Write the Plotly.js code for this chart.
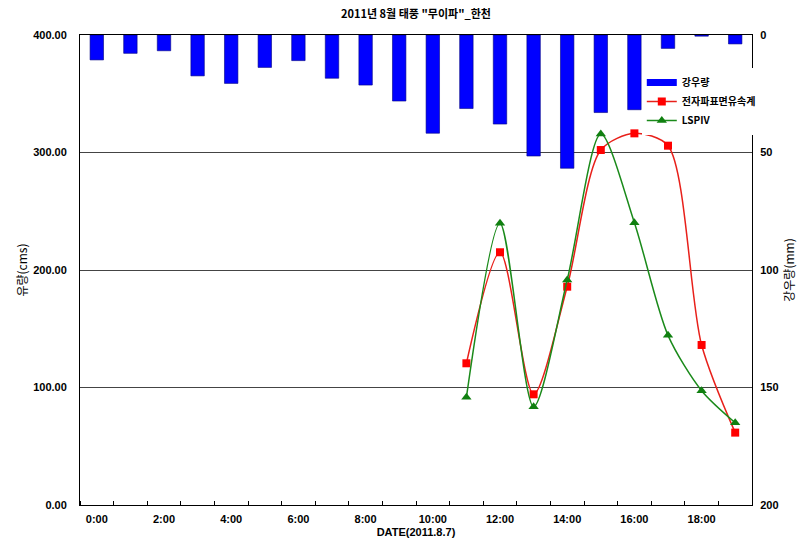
<!DOCTYPE html>
<html>
<head>
<meta charset="utf-8">
<script src="https://cdn.plot.ly/plotly-3.0.1.min.js"></script>
<style>html,body{margin:0;padding:0;background:#fff;}#chart{width:798px;height:547px;}</style>
</head>
<body>
<div id="chart"></div>
<script>
// Hours of the day (category positions) and their labels
var hours = [0,1,2,3,4,5,6,7,8,9,10,11,12,13,14,15,16,17,18,19];
var tickHours = [0,2,4,6,8,10,12,14,16,18];
var tickLabels = ['0:00','2:00','4:00','6:00','8:00','10:00','12:00','14:00','16:00','18:00'];

// Rainfall (mm), 강우량
var rainfall = [10.6, 7.8, 6.7, 17.4, 20.6, 13.8, 10.9, 18.4, 21.3, 28.1, 41.8, 31.3, 37.9, 51.5, 56.7, 33.0, 31.8, 5.7, 0.5, 3.8];

// Discharge (cms)
var flowHours = [11,12,13,14,15,16,17,18,19];
var radarFlow = [120.6, 215.1, 94.2, 185.8, 302.1, 316.3, 305.8, 136.2, 61.6];   // 전자파표면유속계
var lspivFlow = [91.6, 239.7, 83.7, 191.5, 315.7, 240.3, 144.4, 97.3, 70.0];     // LSPIV

var boldFont = {family: 'Liberation Sans Narrow, Liberation Sans, Arial, sans-serif', size: 11, color: '#000', weight: 'bold'};
var krFont = {family: 'Noto Sans CJK KR, sans-serif', size: 11, color: '#000', weight: 'bold'};

var traces = [
  // legend-only entry drawn as a wide blue block, like the reference legend key
  {
    type: 'scatter', mode: 'lines', name: '강우량', x: [null], y: [null], yaxis: 'y2',
    line: {color: '#0000FF', width: 7}, legendrank: 1
  },
  {
    type: 'bar', name: '강우량', x: hours, y: rainfall, yaxis: 'y2',
    width: 0.4, showlegend: false,
    marker: {color: '#0000FF', line: {color: '#000080', width: 0.6}}
  },
  {
    type: 'scatter', mode: 'lines+markers', name: '전자파표면유속계',
    x: flowHours, y: radarFlow, yaxis: 'y', legendrank: 2,
    line: {color: '#E8201A', width: 1.5, shape: 'spline', smoothing: 0.8},
    marker: {color: '#FF0000', symbol: 'square', size: 8}
  },
  {
    type: 'scatter', mode: 'lines+markers', name: 'LSPIV',
    x: flowHours, y: lspivFlow, yaxis: 'y', legendrank: 3,
    line: {color: '#1A8A1A', width: 1.5, shape: 'spline', smoothing: 0.8},
    marker: {color: '#108010', symbol: 'triangle-up', size: 9}
  }
];

var layout = {
  width: 798, height: 547,
  margin: {l: 80, r: 46, t: 35, b: 42},
  paper_bgcolor: '#fff', plot_bgcolor: '#fff',
  showlegend: true,
  title: {text: '2011년 8월 태풍 "무이파"_한천', font: krFont, x: 0.5, xref: 'paper', y: 0.975, yanchor: 'middle'},
  xaxis: {
    range: [-0.5, 19.5],
    tickmode: 'array', tickvals: tickHours, ticktext: tickLabels,
    ticks: '', showgrid: false, zeroline: false,
    showline: true, linecolor: '#000', linewidth: 1, mirror: true,
    tickfont: boldFont, ticklabelstandoff: 4,
    minor: {tickmode: 'linear', tick0: 0.5, dtick: 1, ticks: 'inside', ticklen: 4, tickcolor: '#000', tickwidth: 1, showgrid: false},
    title: {text: 'DATE(2011.8.7)', font: boldFont, standoff: 4}
  },
  yaxis: {
    range: [0, 400], tickvals: [0,100,200,300,400],
    tickformat: '.2f',
    showgrid: true, gridcolor: '#444', gridwidth: 1,
    zeroline: false, showline: true, linecolor: '#000', linewidth: 1,
    ticks: '', tickfont: boldFont, ticklabelstandoff: 10,
    title: {text: '유량(cms)', font: {family: 'Noto Sans CJK KR, sans-serif', size: 12, color: '#000'}, standoff: 2}
  },
  yaxis2: {
    overlaying: 'y', side: 'right',
    range: [200, 0], tickvals: [0,50,100,150,200],
    showgrid: false, zeroline: false, showline: true, linecolor: '#000', linewidth: 1,
    ticks: '', tickfont: boldFont, ticklabelstandoff: 5,
    title: {text: '강우량(mm)', font: {family: 'Noto Sans CJK KR, sans-serif', size: 12, color: '#000'}, standoff: 8}
  },
  legend: {
    x: 0.836, y: 0.93, xanchor: 'left', yanchor: 'top',
    bgcolor: 'rgba(255,255,255,1)', borderwidth: 0,
    font: {family: 'Noto Sans CJK KR, sans-serif', size: 10, color: '#000', weight: 'bold'},
    traceorder: 'normal', itemwidth: 30, tracegroupgap: 0
  },
  bargap: 0.6
};

Plotly.newPlot('chart', traces, layout, {displayModeBar: false, staticPlot: true});
</script>
</body>
</html>
